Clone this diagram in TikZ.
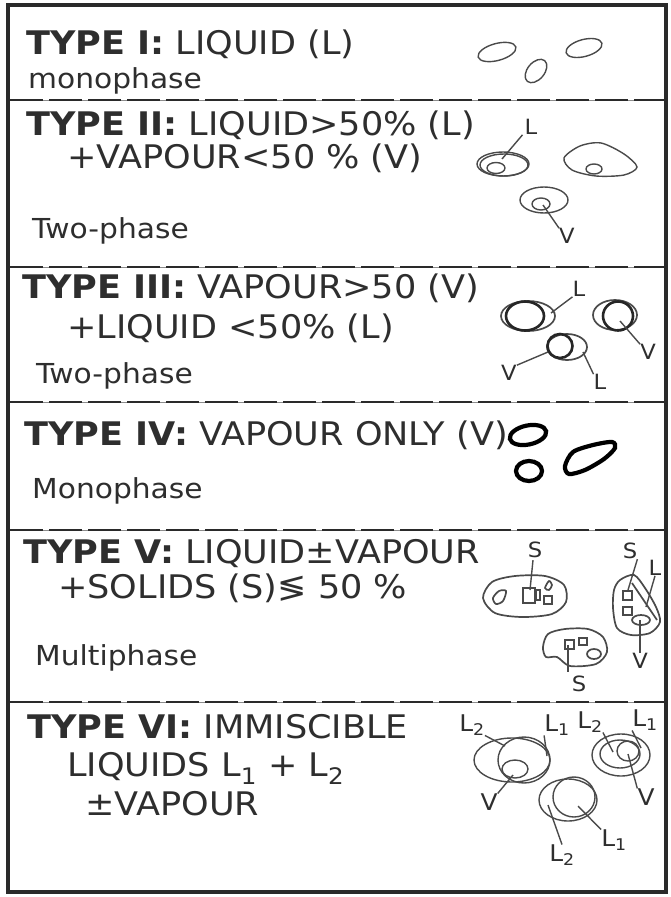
\documentclass[tikz,border=0pt]{standalone}
\usepackage{fontspec}
\setmainfont{DejaVu Sans}[FakeStretch=1.08]
\definecolor{ink}{HTML}{2E2E2E}
\definecolor{frame}{HTML}{2A2A2A}
\definecolor{pen}{HTML}{4A4A4A}
\begin{document}
\begin{tikzpicture}[x=1pt,y=-1pt,
  head/.style={anchor=base west, inner sep=0pt, text=ink, font=\fontsize{32.5}{36}\selectfont},
  phase/.style={anchor=base west, inner sep=0pt, text=ink, font=\fontsize{27.5}{32}\selectfont},
  lbl/.style={inner sep=0pt, text=ink, font=\fontsize{21}{23}\selectfont},
  lblb/.style={inner sep=0pt, text=ink, font=\fontsize{23}{25}\selectfont},
  sepline/.style={line width=2.8pt, draw=frame, dash pattern=on 33pt off 6pt},
  sepbase/.style={line width=0.8pt, draw=black!45},
  thinpen/.style={draw=pen, line width=1.4pt},
  midpen/.style={draw=pen, line width=1.7pt},
  boldpen/.style={draw=black!85, line width=2.6pt},
  heavypen/.style={draw=black, line width=4.2pt},
  leader/.style={draw=pen, line width=1.4pt},
]
\useasboundingbox (0,0) rectangle (670,897);
\fill[white] (0,0) rectangle (670,897);

% outer frame
\draw[line width=3.6pt, draw=frame] (8,5) rectangle (666,892);

% separators between the six types
\foreach \yy in {100,267,402,530,702}{
  \draw[sepbase] (10,\yy) -- (664,\yy);
  \draw[sepline] (10,\yy) -- (664,\yy);
}

% ---------------- TYPE I ----------------
\node[head]  (t1a) at (26,54)  {\textbf{TYPE I:} LIQUID (L)};
\node[phase] (t1b) at (28,88)  {monophase};
\draw[thinpen, rotate around={15:(497,52)}] (497,52) ellipse [x radius=19.5, y radius=8.5];
\draw[thinpen, rotate around={15:(584,48)}] (584,48) ellipse [x radius=18.5, y radius=8.5];
\draw[thinpen, rotate around={50:(536,71)}] (536,71) ellipse [x radius=13.5, y radius=8.5];

% ---------------- TYPE II ----------------
\node[head]  (t2a) at (26,135) {\textbf{TYPE II:} LIQUID>50\% (L)};
\node[head]  (t2b) at (67,168) {+VAPOUR<50 \% (V)};
\node[phase] (t2c) at (32,238) {Two-phase};
\draw[thinpen] (503,164) ellipse [x radius=26, y radius=12];
\draw[thinpen] (504,165) ellipse [x radius=24, y radius=11];
\draw[thinpen] (496,168) ellipse [x radius=9, y radius=5.5];
\draw[thinpen] plot[smooth cycle] coordinates {(564,158) (580,146) (601,143) (624,154) (637,167) (624,175) (596,176) (572,170)};
\draw[thinpen] (594,169) ellipse [x radius=8, y radius=5];
\draw[thinpen] (544,200) ellipse [x radius=24, y radius=13];
\draw[thinpen] (541,204) ellipse [x radius=9, y radius=6];
\node[lbl] (l2a) at (531,127) {L};
\node[lbl] (v2a) at (567,236) {V};
\coordinate (c2a) at (502,159);
\coordinate (c2b) at (543,205);
\draw[leader] (l2a.south west) ++(-2,0) -- (c2a);
\draw[leader] (c2b) -- (v2a.north west);

% ---------------- TYPE III ----------------
\node[head]  (t3a) at (22,298) {\textbf{TYPE III:} VAPOUR>50 (V)};
\node[head]  (t3b) at (67,338) {+LIQUID <50\% (L)};
\node[phase] (t3c) at (36,383) {Two-phase};
\draw[midpen]  (528,316) ellipse [x radius=27, y radius=15];
\draw[boldpen] (525,316) ellipse [x radius=19, y radius=14.5];
\draw[midpen]  (615,315) ellipse [x radius=22, y radius=15];
\draw[boldpen] (618,316) ellipse [x radius=15, y radius=14.5];
\draw[midpen]  (567,347) ellipse [x radius=20, y radius=13];
\draw[boldpen] (560,346) ellipse [x radius=12.5, y radius=12];
\node[lbl] (l3a) at (579,289) {L};
\node[lbl] (v3a) at (648,352) {V};
\node[lbl] (v3b) at (509,373) {V};
\node[lbl] (l3b) at (600,382) {L};
\coordinate (c3a) at (551,313);
\coordinate (c3b) at (620,321);
\coordinate (c3c) at (548,352);
\coordinate (c3d) at (583,352);
\draw[leader] (l3a.south west) -- (c3a);
\draw[leader] (c3b) -- (v3a.north west);
\draw[leader] (v3b.north east) -- (c3c);
\draw[leader] (c3d) -- (l3b.north west);

% ---------------- TYPE IV ----------------
\node[head]  (t4a) at (24,445) {\textbf{TYPE IV:} VAPOUR ONLY (V)};
\node[phase] (t4b) at (32,498) {Monophase};
\draw[heavypen, rotate around={12:(528,435)}] (528,435) ellipse [x radius=18.5, y radius=9.5];
\draw[heavypen] (529,471) ellipse [x radius=13, y radius=10];
\draw[heavypen] plot[smooth cycle] coordinates {(565,466) (573,452) (593,445) (612,442) (615,448) (604,459) (585,470) (569,474)};

% ---------------- TYPE V ----------------
\node[head]  (t5a) at (23,563) {\textbf{TYPE V:} LIQUID±VAPOUR};
\node[head]  (t5b) at (58,598) {+SOLIDS (S)≶ 50 \%};
\node[phase] (t5c) at (35,665) {Multiphase};
% first inclusion
\draw[midpen] plot[smooth cycle] coordinates {(483,598) (492,582) (515,576) (545,576) (564,585) (566,602) (552,614) (522,617) (495,613)};
\draw[midpen] plot[smooth cycle] coordinates {(493,598) (499,591) (506,591) (503,601) (496,604)};
\draw[midpen] (523,588) rectangle (535,603);
\draw[midpen] (536,590) rectangle (540,600);
\draw[midpen] (544,596) rectangle (552,604);
\draw[midpen] plot[smooth cycle] coordinates {(545,588) (549,581) (552,585) (549,590)};
\node[lbl] (s5a) at (535,550) {S};
\coordinate (c5a) at (530,590);
\draw[leader] (s5a.south) ++(-2,2) -- (c5a);
% second inclusion
\draw[midpen] plot[smooth cycle] coordinates {(543,647) (548,634) (565,629) (588,629) (603,637) (607,652) (596,664) (570,666) (557,657) (546,657)};
\draw[midpen] (565,640) rectangle (574,649);
\draw[midpen] (579,638) rectangle (587,645);
\draw[midpen] (594,654) ellipse [x radius=7, y radius=5];
\node[lbl] (s5b) at (579,684) {S};
\coordinate (c5b) at (568,645);
\draw[leader] (c5b) -- (568,672);
% third inclusion
\draw[midpen] plot[smooth cycle] coordinates {(620,580) (634,575) (645,588) (656,607) (660,622) (650,633) (631,635) (617,628) (613,608) (614,590)};
\draw[midpen] (623,591) rectangle (632,600);
\draw[midpen] (623,607) rectangle (632,615);
\draw[midpen] (641,620) ellipse [x radius=9, y radius=5];
\draw[midpen] (632,583) -- (657,620);
\node[lbl] (s5c) at (630,551) {S};
\node[lbl] (l5c) at (655,568) {L};
\node[lbl] (v5c) at (640,661) {V};
\coordinate (c5c) at (628,590);
\coordinate (c5d) at (646,607);
\coordinate (c5e) at (640,620);
\draw[leader] (s5c.south east) -- (c5c);
\draw[leader] (l5c.south) -- (c5d);
\draw[leader] (c5e) -- (v5c.north);

% ---------------- TYPE VI ----------------
\node[head]  (t6a) at (27,738) {\textbf{TYPE VI:} IMMISCIBLE};
\node[head]  (t6b) at (67,776) {LIQUIDS L\textsubscript{1} + L\textsubscript{2}};
\node[head]  (t6c) at (85,815) {±VAPOUR};
% first inclusion
\draw[thinpen] (512,760) ellipse [x radius=38, y radius=22];
\draw[thinpen] (524,760) ellipse [x radius=26, y radius=23];
\draw[thinpen] (515,769) ellipse [x radius=13, y radius=9];
\node[lblb] (l6a) at (472,725) {L\textsubscript{2}};
\node[lblb] (l6b) at (557,725) {L\textsubscript{1}};
\node[lblb] (v6a) at (489,802) {V};
\coordinate (c6a) at (505,746);
\coordinate (c6b) at (547,756);
\coordinate (c6c) at (513,775);
\draw[leader] (l6a.south east) -- (c6a);
\draw[leader] (l6b.south west) -- (c6b);
\draw[leader] (v6a.north east) -- (c6c);
% second inclusion
\draw[thinpen] (621,755) ellipse [x radius=29, y radius=21];
\draw[thinpen] (620,754) ellipse [x radius=20, y radius=14];
\draw[thinpen] (628,751) ellipse [x radius=11, y radius=10];
\node[lblb] (l6c) at (590,722) {L\textsubscript{2}};
\node[lblb] (l6d) at (645,720) {L\textsubscript{1}};
\node[lblb] (v6b) at (646,797) {V};
\coordinate (c6d) at (613,752);
\coordinate (c6e) at (641,748);
\coordinate (c6f) at (628,754);
\draw[leader] (l6c.south east) -- (c6d);
\draw[leader] (l6d.south west) -- (c6e);
\draw[leader] (c6f) -- (v6b.north west);
% third inclusion
\draw[thinpen] (568,800) ellipse [x radius=29, y radius=21];
\draw[thinpen] (574,797) ellipse [x radius=21, y radius=20];
\node[lblb] (l6e) at (562,855) {L\textsubscript{2}};
\node[lblb] (l6f) at (614,840) {L\textsubscript{1}};
\coordinate (c6g) at (548,805);
\coordinate (c6h) at (578,806);
\draw[leader] (c6g) -- (l6e.north);
\draw[leader] (c6h) -- (l6f.north west);
\end{tikzpicture}
\end{document}
